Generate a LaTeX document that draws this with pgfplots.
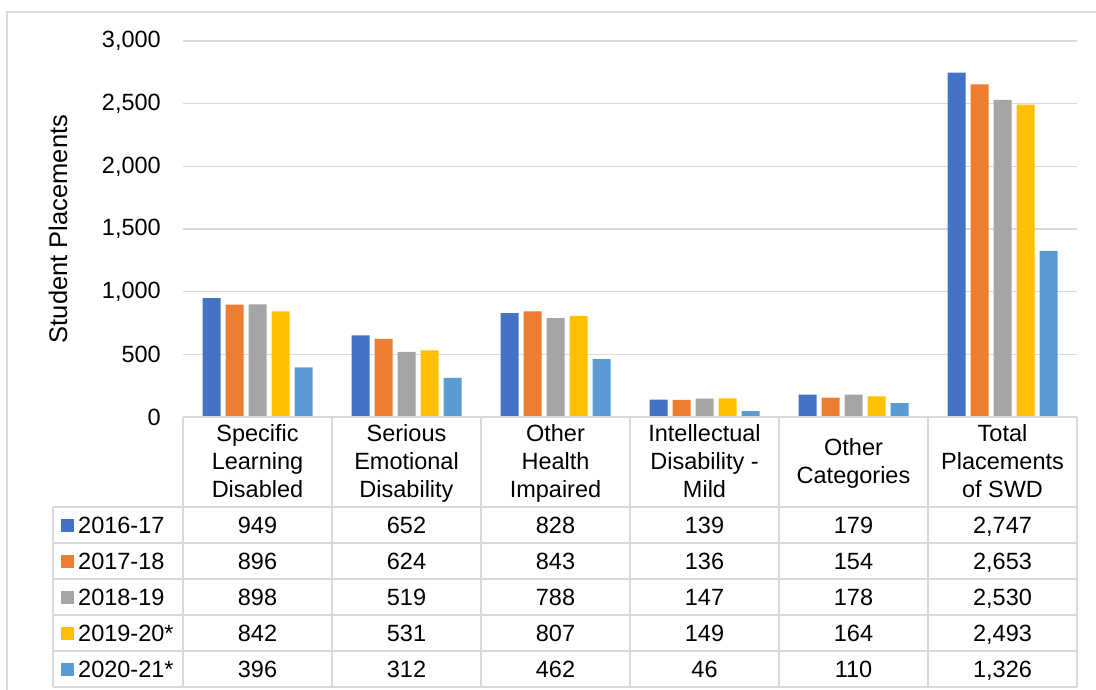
\documentclass[border=0pt]{standalone}
\usepackage{fontspec}
\setmainfont{Liberation Sans}
\usepackage{pgfplots}
\pgfplotsset{compat=1.18}

\definecolor{cA}{HTML}{4472C4}
\definecolor{cB}{HTML}{ED7D31}
\definecolor{cC}{HTML}{A5A5A5}
\definecolor{cD}{HTML}{FFC000}
\definecolor{cE}{HTML}{5B9BD5}
\definecolor{gridgray}{HTML}{D9D9D9}

\newcommand{\tfont}{\fontsize{23.5}{28}\selectfont}

\begin{document}
\begin{tikzpicture}
\useasboundingbox (0,0) rectangle (1096pt,-690pt);
\clip (0,0) rectangle (1096pt,-690pt);

\begin{axis}[
  at={(183pt,-417pt)}, anchor=south west,
  scale only axis, width=894pt, height=376pt,
  xmin=0.5, xmax=6.5, ymin=0, ymax=3000,
  ybar=5pt, bar width=18pt,
  axis line style={draw=none},
  xtick=\empty,
  ytick={0,500,...,3000},
  major tick length=0pt,
  ymajorgrids,
  grid style={line width=1.5pt, gridgray},
  yticklabel style={font=\tfont, anchor=east, inner sep=0pt, xshift=-22pt},
  /pgf/number format/1000 sep={,},
  /pgf/number format/assume math mode=true,
  clip=false,
]
\addplot[fill=cA, draw=none] coordinates {(1,949) (2,652) (3,828) (4,139) (5,179) (6,2747)};
\addplot[fill=cB, draw=none] coordinates {(1,896) (2,624) (3,843) (4,136) (5,154) (6,2653)};
\addplot[fill=cC, draw=none] coordinates {(1,898) (2,519) (3,788) (4,147) (5,178) (6,2530)};
\addplot[fill=cD, draw=none] coordinates {(1,842) (2,531) (3,807) (4,149) (5,164) (6,2493)};
\addplot[fill=cE, draw=none] coordinates {(1,396) (2,312) (3,462) (4,46) (5,110) (6,1326)};
\end{axis}

\begin{scope}[x=1pt, y=-1pt]
  % outer frame
  \draw[gridgray, line width=1.5pt] (7,720) -- (7,12) -- (1110,12);
  % y label
  \node[rotate=90, font=\fontsize{25.5}{30}\selectfont] at (58,229) {Student Placements};
  % data table grid
  \begin{scope}[gridgray, line width=1.5pt]
    \draw (183,417) -- (1077,417);
    \foreach \yy in {507,543,579,615,651,687} \draw (53,\yy) -- (1077,\yy);
    \foreach \xx in {183,332,481,630,779,928,1077} \draw (\xx,417) -- (\xx,687);
    \draw (53,507) -- (53,687);
  \end{scope}
  % header
  \foreach \cx/\lab in {257.5/{\strut Specific\\\strut Learning\\\strut Disabled},
                        406.5/{\strut Serious\\\strut Emotional\\\strut Disability},
                        555.5/{\strut Other\\\strut Health\\\strut Impaired},
                        704.5/{\strut Intellectual\\\strut Disability -\\\strut Mild},
                        853.5/{\strut Other\\\strut Categories},
                        1002.5/{\strut Total\\\strut Placements\\\strut of SWD}}
    \node[align=center, font=\tfont, inner sep=0pt] at (\cx,464) {\lab};
  % legend keys and series names
  \foreach \yy/\col/\nm in {525/cA/2016-17, 561/cB/2017-18, 597/cC/2018-19, 633/cD/2019-20*, 669/cE/2020-21*} {
    \fill[\col] (61,\yy-6.5) rectangle (74,\yy+6.5);
    \node[anchor=base west, font=\tfont, inner sep=0pt] at (78,\yy+8.5) {\nm};
  }
  % values
  \foreach \yy/\a/\b/\c/\d/\e/\f in {
      525/949/652/828/139/179/{2,747},
      561/896/624/843/136/154/{2,653},
      597/898/519/788/147/178/{2,530},
      633/842/531/807/149/164/{2,493},
      669/396/312/462/46/110/{1,326}} {
    \node[anchor=base, font=\tfont, inner sep=0pt] at (257.5,\yy+8.5) {\a};
    \node[anchor=base, font=\tfont, inner sep=0pt] at (406.5,\yy+8.5) {\b};
    \node[anchor=base, font=\tfont, inner sep=0pt] at (555.5,\yy+8.5) {\c};
    \node[anchor=base, font=\tfont, inner sep=0pt] at (704.5,\yy+8.5) {\d};
    \node[anchor=base, font=\tfont, inner sep=0pt] at (853.5,\yy+8.5) {\e};
    \node[anchor=base, font=\tfont, inner sep=0pt] at (1002.5,\yy+8.5) {\f};
  }
\end{scope}
\end{tikzpicture}
\end{document}
